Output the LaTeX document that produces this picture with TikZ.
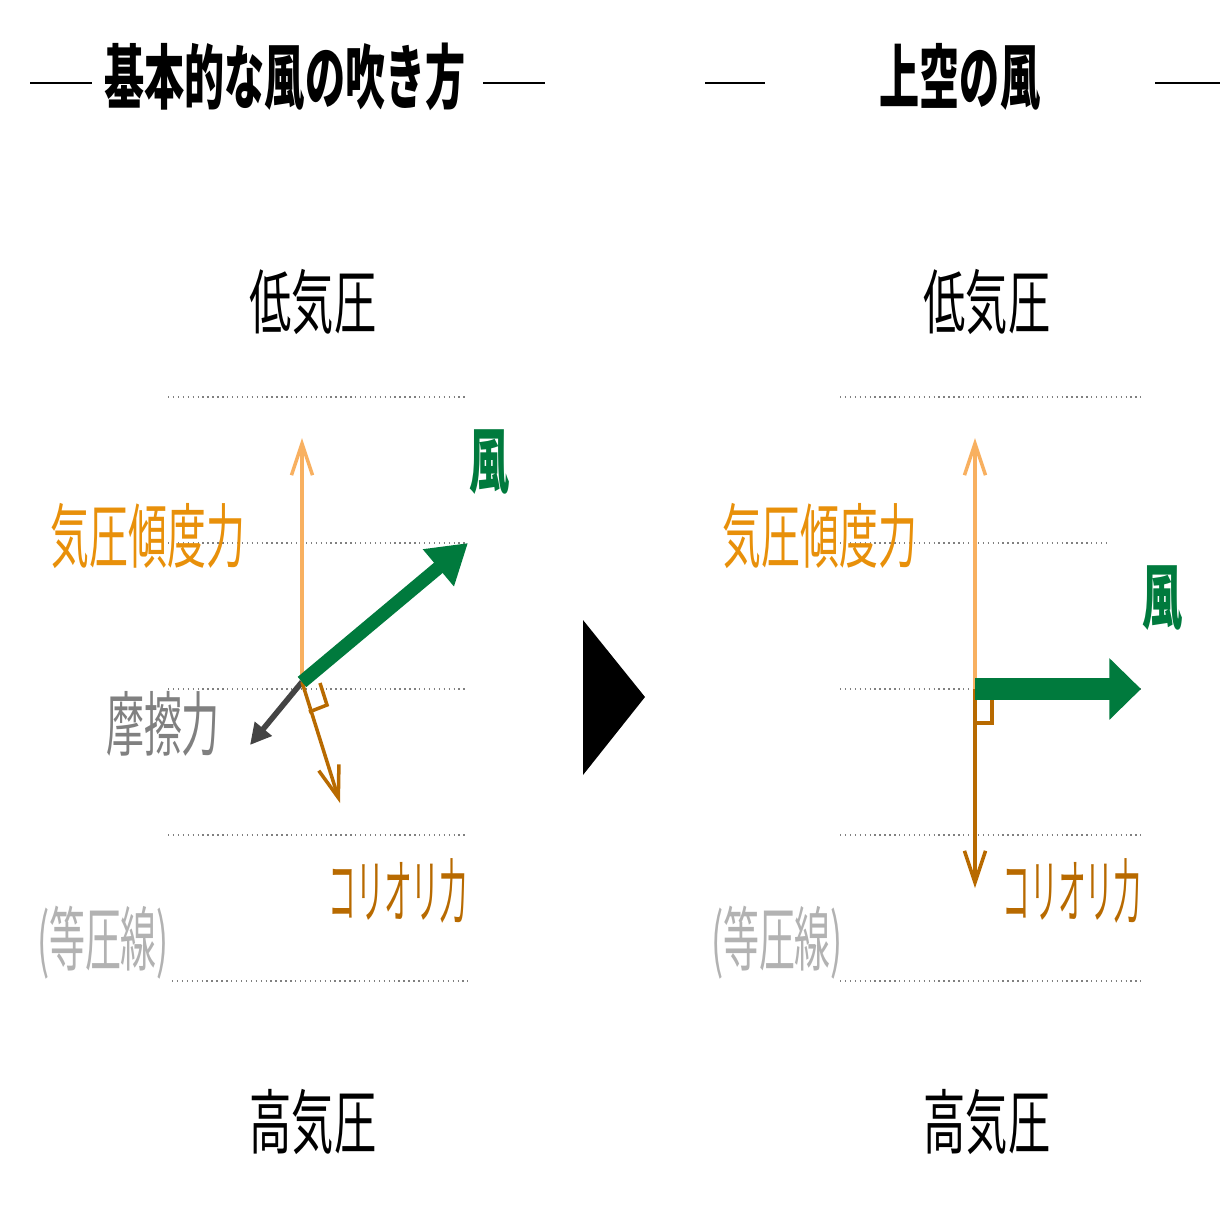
\documentclass[tikz,border=0pt]{standalone}
\usepackage{fontspec}
\setmainfont{Noto Sans CJK JP}
\newfontfamily\jpbold{Noto Sans CJK JP Black}
\usetikzlibrary{arrows.meta}
\definecolor{windgreen}{HTML}{007A3D}
\definecolor{pgflight}{HTML}{F8B060}
\definecolor{pgfdark}{HTML}{E8900A}
\definecolor{corbrown}{HTML}{B86A00}
\definecolor{fricgray}{HTML}{444444}
\tikzset{
  lbl/.style={inner sep=0pt, xscale=0.6, font=\fontsize{20}{20}\selectfont},
  ttl/.style={inner sep=0pt, xscale=0.57, font=\jpbold\fontsize{20}{20}\selectfont},
  iso/.style={densely dotted, gray, line width=0.4pt},
  tick/.style={line width=0.6pt},
  thin arrow/.style={line width=1pt, -{Straight Barb[length=9pt,width=6pt]}},
}
\begin{document}
\begin{tikzpicture}[x=0.01cm,y=-0.01cm]
\useasboundingbox (0,0) rectangle (1220,1220);
% titles
\node[ttl] (t1) at (285,77) {基本的な風の吹き方};
\node[ttl] (t2) at (960,77) {上空の風};
\draw[tick] (30,83) -- (92,83);
\draw[tick] (483,83) -- (545,83);
\draw[tick] (705,83) -- (765,83);
\draw[tick] (1155,83) -- (1220,83);
% left panel
\node[lbl] (lo1) at (313,302) {低気圧};
\node[lbl] (hi1) at (313,1122) {高気圧};
\foreach \y in {397,543,689,835} \draw[iso] (168,\y) -- (468,\y);
\draw[iso] (172,981) -- (468,981);
\coordinate (o1) at (302,682);
\coordinate (p1) at (302,438);
\coordinate (w1) at (468,543);
\coordinate (f1) at (250,745);
\coordinate (c1) at (340,803);
\draw[pgflight, thin arrow] (o1) -- (p1);
\draw[fricgray, line width=1.6pt, -{Triangle[length=6pt,width=6pt]}] (o1) -- (f1);
\draw[corbrown, thin arrow] (o1) -- (c1);
\draw[corbrown, line width=1pt] (309,712) -- (327,705) -- (320,683);
\draw[windgreen, line width=3.8pt, -{Triangle[length=11pt,width=13pt]}] (o1) -- (w1);
\node[lbl, xscale=0.92, text=pgfdark] (pg1) at (148,536) {気圧傾度力};
\node[ttl, text=windgreen] (wn1) at (490,462) {風};
\node[lbl, xscale=0.9, text=gray] (fr1) at (163,724) {摩擦力};
\node[lbl, xscale=0.66, text=corbrown] (co1) at (398,891) {コリオリ力};
\node[lbl, xscale=0.85, text=lightgray!80!gray] (is1) at (103,943) {(等圧線)};
% arrow between panels
\fill (583,620) -- (645,697) -- (583,775) -- cycle;
% right panel
\node[lbl] (lo2) at (987,302) {低気圧};
\node[lbl] (hi2) at (987,1122) {高気圧};
\foreach \y in {397,689,835,981} \draw[iso] (840,\y) -- (1141,\y);
\draw[iso] (840,543) -- (1110,543);
\coordinate (o2) at (975,689);
\coordinate (p2) at (975,438);
\coordinate (w2) at (1141,689);
\coordinate (c2) at (975,888);
\draw[pgflight, thin arrow] (o2) -- (p2);
\draw[corbrown, thin arrow] (o2) -- (c2);
\draw[corbrown, line width=1pt] (977,723) -- (992,723) -- (992,700);
\draw[windgreen, line width=6pt, -{Triangle[length=9pt,width=17pt]}] (o2) -- (w2);
\node[lbl, xscale=0.92, text=pgfdark] (pg2) at (820,536) {気圧傾度力};
\node[ttl, text=windgreen] (wn2) at (1163,598) {風};
\node[lbl, xscale=0.66, text=corbrown] (co2) at (1072,891) {コリオリ力};
\node[lbl, xscale=0.85, text=lightgray!80!gray] (is2) at (777,943) {(等圧線)};
\end{tikzpicture}
\end{document}
